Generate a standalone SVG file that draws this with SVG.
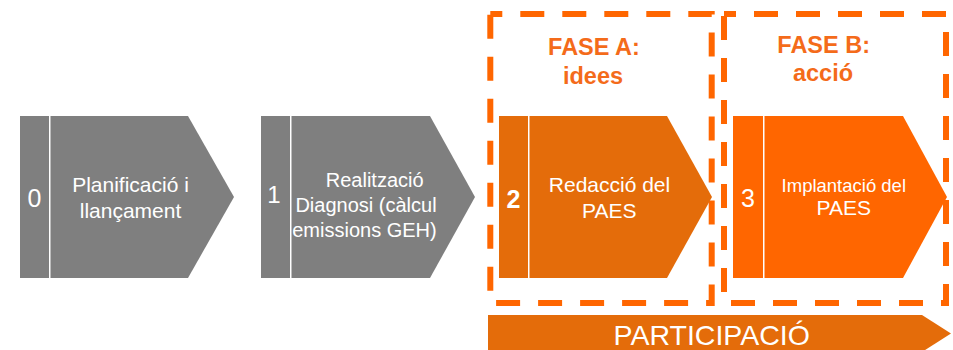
<svg xmlns="http://www.w3.org/2000/svg" width="953" height="350" viewBox="0 0 953 350">
<style>
  .gray{fill:#7F7F7F}
  .dark{fill:#E46C0A}
  .bright{fill:#FF6600}
  .dash{fill:none;stroke:#FF6600;stroke-width:6;stroke-dasharray:24 18}
  .t{font-family:"Liberation Sans",Arial,sans-serif;fill:#FFFFFF;text-anchor:middle}
  .fase{font-family:"Liberation Sans",Arial,sans-serif;fill:#F46B1A;font-weight:bold;font-size:23.5px;text-anchor:middle}
</style>
<rect width="953" height="350" fill="#FFFFFF"/>
<g id="phases">
  <g id="faseA">
    <rect class="dash" x="490.3" y="14" width="221.4" height="289" stroke-dashoffset="12"/>
    <text class="fase" x="594" y="55">FASE A:</text>
    <text class="fase" x="593" y="84">idees</text>
  </g>
  <g id="faseB">
    <rect class="dash" x="724" y="14" width="222" height="289" stroke-dashoffset="12"/>
    <text class="fase" x="823.7" y="53">FASE B:</text>
    <text class="fase" x="823" y="81">acció</text>
  </g>
</g>
<g id="step0">
  <rect class="gray" x="20" y="116" width="29" height="162"/>
  <path class="gray" d="M50.5,116 L188,116 L234,197 L188,278 L50.5,278 Z"/>
  <text class="t" x="34.5" y="206.5" font-size="25">0</text>
  <text class="t" x="130.5" y="191.5" font-size="21">Planificació i</text>
  <text class="t" x="130.5" y="218" font-size="21">llançament</text>
</g>
<g id="step1">
  <rect class="gray" x="261" y="116" width="29" height="162"/>
  <path class="gray" d="M291.5,116 L430,116 L475,197 L430,278 L291.5,278 Z"/>
  <text class="t" x="274" y="203" font-size="24">1</text>
  <text class="t" x="374.7" y="186.5" font-size="20">Realització</text>
  <text class="t" x="366" y="212" font-size="20">Diagnosi (càlcul</text>
  <text class="t" x="364.5" y="237" font-size="20">emissions GEH)</text>
</g>
<g id="step2">
  <rect class="dark" x="499" y="116" width="29" height="162"/>
  <path class="dark" d="M529.5,116 L667,116 L712,197 L667,278 L529.5,278 Z"/>
  <text class="t" x="513.5" y="208" font-size="25" font-weight="bold">2</text>
  <text class="t" x="609.5" y="191.5" font-size="21">Redacció del</text>
  <text class="t" x="609.3" y="218.3" font-size="21">PAES</text>
</g>
<g id="step3">
  <rect class="bright" x="733" y="116" width="30" height="162"/>
  <path class="bright" d="M764.5,116 L903,116 L947,197 L903,278 L764.5,278 Z"/>
  <text class="t" x="748" y="206.5" font-size="25">3</text>
  <text class="t" x="843.8" y="191.5" font-size="18.5">Implantació del</text>
  <text class="t" x="843.8" y="215" font-size="21">PAES</text>
</g>
<g id="participacio">
  <path class="dark" d="M488,315 L922,315 L951,333.5 L922,352 L488,352 Z"/>
  <text class="t" x="711.7" y="345" font-size="28.5">PARTICIPACIÓ</text>
</g>
<g id="connectors"></g>
</svg>
